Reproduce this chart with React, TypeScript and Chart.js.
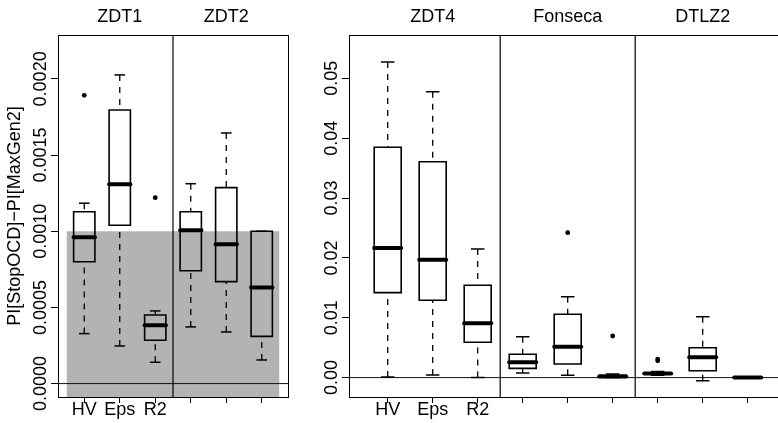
import React, { useEffect, useRef } from "react";
import { Chart, registerables } from "chart.js";
Chart.register(...registerables);

const FONT = "'Liberation Sans', Arial, Helvetica, sans-serif";
const FONT_SIZE = 18;

const methods = ["HV", "Eps", "R2"];
const leftProblems = ["ZDT1", "ZDT2"];
const rightProblems = ["ZDT4", "Fonseca", "DTLZ2"];

// [lower whisker, Q1, median, Q3, upper whisker] for HV, Eps, R2
const zdt1Stats = [
  [0.000328, 0.0008, 0.00096, 0.001128, 0.001184],
  [0.000247, 0.001039, 0.001308, 0.001796, 0.002026],
  [0.00014, 0.000284, 0.000383, 0.00045, 0.000477],
];
const zdt1Outliers = [[0.001892], [], [0.00122]];

const zdt2Stats = [
  [0.000372, 0.000741, 0.001006, 0.001128, 0.001312],
  [0.000339, 0.000669, 0.000914, 0.001286, 0.001645],
  [0.000155, 0.00031, 0.00063, 0.001, 0.001],
];
const zdt2Outliers = [[], [], []];

const zdt4Stats = [
  [0.0001, 0.01419, 0.02165, 0.03848, 0.05273],
  [0.00043, 0.01292, 0.0197, 0.03607, 0.04777],
  [0.0, 0.0059, 0.00907, 0.01542, 0.02149],
];
const zdt4Outliers = [[], [], []];

const fonsecaStats = [
  [0.00077, 0.00155, 0.00256, 0.00389, 0.00683],
  [0.00038, 0.00227, 0.00516, 0.01058, 0.01352],
  [0.0, 0.0001, 0.0002, 0.0004, 0.0006],
];
const fonsecaOutliers = [[], [0.02421], [0.00695]];

const dtlz2Stats = [
  [0.0004, 0.0006, 0.0007, 0.0008, 0.001],
  [-0.00052, 0.00115, 0.00339, 0.005, 0.01018],
  [-0.0001, 0.0, 0.0, 0.00005, 0.0001],
];
const dtlz2Outliers = [[0.0031, 0.0028], [], []];

const leftYTicks = [0, 0.0005, 0.001, 0.0015, 0.002];
const leftYTickLabels = ["0.0000", "0.0005", "0.0010", "0.0015", "0.0020"];
const rightYTicks = [0, 0.01, 0.02, 0.03, 0.04, 0.05];
const rightYTickLabels = ["0.00", "0.01", "0.02", "0.03", "0.04", "0.05"];
const yTitle = "PI[StopOCD]\u2212PI[MaxGen2]";
const bandTop = 0.001;

const BOX_HALF = 0.3;
const CAP_HALF = 0.15;

type Spec = {
  problems: string[];
  stats: number[][][];
  outliers: number[][][];
  xMin: number;
  xMax: number;
  yMin: number;
  yMax: number;
  yTicks: number[];
  yTickLabels: string[];
  title?: string;
  band?: number;
  yWidth: number;
  padRight: number;
};

const leftSpec: Spec = {
  problems: leftProblems,
  stats: [zdt1Stats, zdt2Stats],
  outliers: [zdt1Outliers, zdt2Outliers],
  xMin: 0.26,
  xMax: 6.74,
  yMin: -0.000088,
  yMax: 0.002288,
  yTicks: leftYTicks,
  yTickLabels: leftYTickLabels,
  title: yTitle,
  band: bandTop,
  yWidth: 58,
  padRight: 8,
};

const rightSpec: Spec = {
  problems: rightProblems,
  stats: [zdt4Stats, fonsecaStats, dtlz2Stats],
  outliers: [zdt4Outliers, fonsecaOutliers, dtlz2Outliers],
  xMin: 0.14,
  xMax: 9.86,
  yMin: -0.00324,
  yMax: 0.05724,
  yTicks: rightYTicks,
  yTickLabels: rightYTickLabels,
  yWidth: 59,
  padRight: 13.6,
};

function lineDs(data: { x: number; y: number }[], extra: any = {}) {
  return {
    type: "scatter",
    data,
    showLine: true,
    pointRadius: 0,
    pointHoverRadius: 0,
    borderColor: "#000",
    borderWidth: 1.5,
    fill: false,
    order: 1,
    ...extra,
  };
}

function buildDatasets(spec: Spec) {
  const ds: any[] = [];
  const nPos = spec.problems.length * methods.length;
  if (spec.band !== undefined) {
    ds.push(
      lineDs(
        [
          { x: 0.5, y: spec.band },
          { x: nPos + 0.5, y: spec.band },
        ],
        { fill: "start", backgroundColor: "#b3b3b3", borderWidth: 0, borderColor: "rgba(0,0,0,0)", order: 10 }
      )
    );
  }
  ds.push(
    lineDs(
      [
        { x: spec.xMin, y: 0 },
        { x: spec.xMax, y: 0 },
      ],
      { borderWidth: 1, borderColor: "#111", order: 2 }
    )
  );
  for (let p = 1; p < spec.problems.length; p++) {
    const xd = p * methods.length + 0.5;
    ds.push(
      lineDs(
        [
          { x: xd, y: spec.yMin },
          { x: xd, y: spec.yMax },
        ],
        { borderWidth: 1.2, order: 2 }
      )
    );
  }
  const outPts: { x: number; y: number }[] = [];
  spec.stats.forEach((group, p) => {
    group.forEach((s, m) => {
      const pos = p * methods.length + m + 1;
      const [lo, q1, med, q3, hi] = s;
      if (hi > q3)
        ds.push(lineDs([{ x: pos, y: hi }, { x: pos, y: q3 }], { borderWidth: 1.3, borderDash: [6, 6] }));
      if (lo < q1)
        ds.push(lineDs([{ x: pos, y: lo }, { x: pos, y: q1 }], { borderWidth: 1.3, borderDash: [6, 6] }));
      ds.push(lineDs([{ x: pos - CAP_HALF, y: hi }, { x: pos + CAP_HALF, y: hi }], { borderWidth: 1.5 }));
      ds.push(lineDs([{ x: pos - CAP_HALF, y: lo }, { x: pos + CAP_HALF, y: lo }], { borderWidth: 1.5 }));
      ds.push(
        lineDs(
          [
            { x: pos - BOX_HALF, y: q1 },
            { x: pos + BOX_HALF, y: q1 },
            { x: pos + BOX_HALF, y: q3 },
            { x: pos - BOX_HALF, y: q3 },
            { x: pos - BOX_HALF, y: q1 },
          ],
          { borderWidth: 1.6, borderJoinStyle: "miter", borderCapStyle: "square" }
        )
      );
      ds.push(
        lineDs([{ x: pos - BOX_HALF, y: med }, { x: pos + BOX_HALF, y: med }], {
          borderWidth: 4,
          borderCapStyle: "round",
          order: 0,
        })
      );
      spec.outliers[p][m].forEach((v) => outPts.push({ x: pos, y: v }));
    });
  });
  ds.push({
    type: "scatter",
    data: outPts,
    showLine: false,
    pointRadius: 2.4,
    pointHoverRadius: 2.4,
    pointBackgroundColor: "#000",
    pointBorderWidth: 0,
    order: 0,
  });
  return ds;
}

function buildConfig(spec: Spec): any {
  const nPos = spec.problems.length * methods.length;
  const xPositions: number[] = [];
  const xLabels: string[] = [];
  for (let i = 0; i < nPos; i++) {
    xPositions.push(i + 1);
    xLabels.push(i < methods.length ? methods[i] : "");
  }
  const titlePositions = spec.problems.map((_, p) => p * methods.length + 2);
  const font = { family: FONT, size: FONT_SIZE, lineHeight: 1 };
  const black = "#000";
  const rotatedLabels = {
    id: "rotatedYLabels",
    afterDraw(chart: any) {
      const s = chart.scales.y;
      const ctx = chart.ctx;
      ctx.save();
      ctx.fillStyle = black;
      ctx.font = `${FONT_SIZE}px ${FONT}`;
      ctx.textAlign = "center";
      ctx.textBaseline = "alphabetic";
      s.ticks.forEach((t: any, i: number) => {
        const py = s.getPixelForValue(t.value);
        ctx.save();
        ctx.translate(s.right - 11.8, py);
        ctx.rotate(-Math.PI / 2);
        ctx.fillText(spec.yTickLabels[i], 0, 0);
        ctx.restore();
      });
      ctx.restore();
    },
  };
  return {
    type: "scatter",
    data: { datasets: buildDatasets(spec) },
    plugins: [rotatedLabels],
    options: {
      responsive: false,
      animation: false,
      devicePixelRatio: 1,
      events: [],
      layout: { autoPadding: false, padding: { left: 0, top: 0, bottom: 0, right: spec.padRight } },
      plugins: {
        legend: { display: false },
        tooltip: { enabled: false },
        filler: { drawTime: "beforeDatasetsDraw" },
      },
      scales: {
        x: {
          type: "linear",
          position: "bottom",
          min: spec.xMin,
          max: spec.xMax,
          afterFit: (s: any) => {
            s.height = 26;
          },
          afterBuildTicks: (s: any) => {
            s.ticks = xPositions.map((v) => ({ value: v }));
          },
          ticks: {
            autoSkip: false,
            maxRotation: 0,
            minRotation: 0,
            padding: -1.5,
            color: black,
            font,
            callback: (_v: any, i: number) => xLabels[i],
          },
          grid: { display: true, drawOnChartArea: false, drawTicks: true, tickLength: 6, color: black, lineWidth: 1 },
          border: { display: true, color: black, width: 1 },
        },
        x2: {
          type: "linear",
          position: "top",
          min: spec.xMin,
          max: spec.xMax,
          afterFit: (s: any) => {
            s.height = 35;
          },
          afterBuildTicks: (s: any) => {
            s.ticks = titlePositions.map((v) => ({ value: v }));
          },
          ticks: {
            autoSkip: false,
            maxRotation: 0,
            minRotation: 0,
            padding: 9.2,
            color: black,
            font,
            callback: (_v: any, i: number) => spec.problems[i],
          },
          grid: { display: false, drawTicks: false },
          border: { display: true, color: black, width: 1 },
        },
        y: {
          type: "linear",
          position: "left",
          min: spec.yMin,
          max: spec.yMax,
          afterFit: (s: any) => {
            s.width = spec.yWidth;
          },
          afterBuildTicks: (s: any) => {
            s.ticks = spec.yTicks.map((v) => ({ value: v }));
          },
          ticks: { display: false },
          grid: { display: true, drawOnChartArea: false, drawTicks: true, tickLength: 7, color: black, lineWidth: 1 },
          border: { display: true, color: black, width: 1 },
          title: {
            display: !!spec.title,
            text: spec.title || "",
            color: black,
            font,
            padding: { top: 6, bottom: 0 },
          },
        },
        y2: {
          type: "linear",
          position: "right",
          afterFit: (s: any) => {
            s.width = 0;
          },
          ticks: { display: false },
          grid: { display: false, drawTicks: false },
          border: { display: true, color: black, width: 1 },
        },
      },
    },
  };
}

export default function App() {
  const leftRef = useRef<HTMLCanvasElement>(null);
  const rightRef = useRef<HTMLCanvasElement>(null);
  useEffect(() => {
    const c1 = new Chart(leftRef.current as HTMLCanvasElement, buildConfig(leftSpec));
    const c2 = new Chart(rightRef.current as HTMLCanvasElement, buildConfig(rightSpec));
    return () => {
      c1.destroy();
      c2.destroy();
    };
  }, []);
  return (
    <div
      style={{
        position: "fixed",
        left: 0,
        top: 0,
        width: 778,
        height: 423,
        overflow: "hidden",
        background: "#fff",
      }}
    >
      <canvas ref={leftRef} width={296} height={423} style={{ position: "absolute", left: 0, top: 0 }} />
      <canvas ref={rightRef} width={510} height={423} style={{ position: "absolute", left: 290, top: 0 }} />
    </div>
  );
}
